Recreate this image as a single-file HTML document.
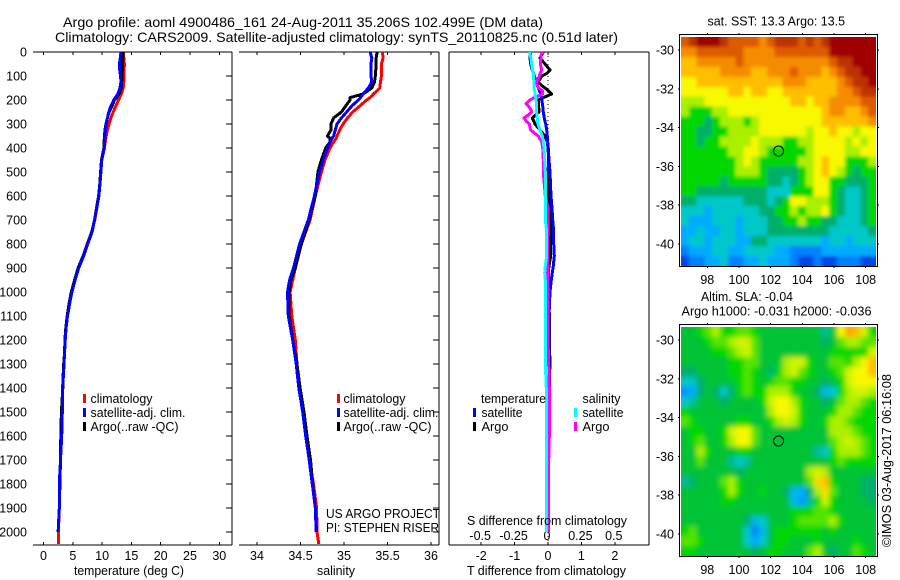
<!DOCTYPE html>
<html lang="en">
<head>
<meta charset="utf-8">
<title>Argo profile chart</title>
<style>
html,body{margin:0;padding:0;background:#fff;width:900px;height:580px;overflow:hidden}
svg{display:block}
text{font-family:"Liberation Sans",Arial,sans-serif;font-size:12.5px;fill:#000}
.frame{stroke:#000;stroke-width:1;fill:none;shape-rendering:crispEdges}
.curve{fill:none;stroke-width:3;stroke-linejoin:round;stroke-linecap:butt;shape-rendering:crispEdges}
</style>
</head>
<body>
<svg id="chart" xmlns="http://www.w3.org/2000/svg" width="900" height="580" viewBox="0 0 900 580">
  <defs>
    <clipPath id="clip-sst"><rect x="681" y="37" width="195" height="229"/></clipPath>
    <clipPath id="clip-sla"><rect x="681" y="327" width="195" height="229"/></clipPath>
    <filter id="blur-sst" filterUnits="userSpaceOnUse" x="660" y="15" width="240" height="270"><feGaussianBlur stdDeviation="1.8"/></filter>
    <filter id="blur-sla" filterUnits="userSpaceOnUse" x="660" y="305" width="240" height="270"><feGaussianBlur stdDeviation="2.6"/></filter>
  </defs>

  <text x="63" y="27" font-size="14" style="font-size:14px" textLength="480" lengthAdjust="spacingAndGlyphs">Argo profile: aoml 4900486_161 24-Aug-2011 35.206S 102.499E (DM data)</text>
  <text x="55" y="42" style="font-size:14px" textLength="563" lengthAdjust="spacingAndGlyphs">Climatology: CARS2009. Satellite-adjusted climatology: synTS_20110825.nc (0.51d later)</text>

  <g id="panel-t"></g>
  <g id="panel-s"></g>
  <g id="panel-d"></g>

  <text x="74" y="575" textLength="110" lengthAdjust="spacingAndGlyphs">temperature (deg C)</text>
  <text x="317" y="575" textLength="38" lengthAdjust="spacingAndGlyphs">salinity</text>
  <text x="467" y="575" textLength="159" lengthAdjust="spacingAndGlyphs">T difference from climatology</text>
  <text x="467" y="525" textLength="160" lengthAdjust="spacingAndGlyphs">S difference from climatology</text>

  <g>
    <rect x="83" y="394" width="3" height="9" fill="#f00"/>
    <rect x="83" y="408" width="3" height="9" fill="#00f"/>
    <rect x="83" y="422" width="3" height="9" fill="#000"/>
    <text x="90.5" y="403" textLength="62" lengthAdjust="spacingAndGlyphs">climatology</text>
    <text x="90.5" y="417" textLength="95" lengthAdjust="spacingAndGlyphs">satellite-adj. clim.</text>
    <text x="90.5" y="431" textLength="88" lengthAdjust="spacingAndGlyphs">Argo(..raw -QC)</text>
  </g>
  <g>
    <rect x="337" y="394" width="3" height="9" fill="#f00"/>
    <rect x="337" y="408" width="3" height="9" fill="#00f"/>
    <rect x="337" y="422" width="3" height="9" fill="#000"/>
    <text x="343.5" y="403" textLength="62" lengthAdjust="spacingAndGlyphs">climatology</text>
    <text x="343.5" y="417" textLength="95" lengthAdjust="spacingAndGlyphs">satellite-adj. clim.</text>
    <text x="343.5" y="431" textLength="88" lengthAdjust="spacingAndGlyphs">Argo(..raw -QC)</text>
  </g>
  <text x="326" y="518" textLength="114" lengthAdjust="spacingAndGlyphs">US ARGO PROJECT</text>
  <text x="326" y="532" textLength="113" lengthAdjust="spacingAndGlyphs">PI: STEPHEN RISER</text>

  <g>
    <text x="481" y="403" textLength="65" lengthAdjust="spacingAndGlyphs">temperature</text>
    <rect x="473" y="408" width="3" height="9" fill="#00f"/>
    <text x="481.5" y="417" textLength="41" lengthAdjust="spacingAndGlyphs">satellite</text>
    <rect x="473" y="422" width="3" height="9" fill="#000"/>
    <text x="481.5" y="431" textLength="27" lengthAdjust="spacingAndGlyphs">Argo</text>
    <text x="582.5" y="403" textLength="38" lengthAdjust="spacingAndGlyphs">salinity</text>
    <rect x="574" y="408" width="3" height="9" fill="#0ff"/>
    <text x="582.5" y="417" textLength="41" lengthAdjust="spacingAndGlyphs">satellite</text>
    <rect x="574" y="422" width="3" height="9" fill="#f0f"/>
    <text x="582.5" y="431" textLength="27" lengthAdjust="spacingAndGlyphs">Argo</text>
  </g>

  <g id="map-sst"></g>
  <g id="map-sla"></g>

  <text x="707.5" y="25.5" textLength="137.5" lengthAdjust="spacingAndGlyphs">sat. SST: 13.3 Argo: 13.5</text>
  <text x="701" y="301" textLength="92" lengthAdjust="spacingAndGlyphs">Altim. SLA: -0.04</text>
  <text x="681.5" y="315.5" textLength="190" lengthAdjust="spacingAndGlyphs">Argo h1000: -0.031 h2000: -0.036</text>
  <text transform="translate(891,547) rotate(-90)" x="0" y="0" textLength="173" lengthAdjust="spacingAndGlyphs">©IMOS 03-Aug-2017 06:16:08</text>
</svg>

<script>
/* ---------- axis tick labels ---------- */
const depthTicks = [0,100,200,300,400,500,600,700,800,900,1000,1100,1200,1300,1400,1500,1600,1700,1800,1900,2000];
const tempTicks = [0,5,10,15,20,25,30];
const salTicks = [34,34.5,35,35.5,36];
const salTickLabels = ['34','34.5','35','35.5','36'];
const tDiffTicks = [-2,-1,0,1,2];
const sDiffTicks = [-0.5,-0.25,0,0.25,0.5];
const sDiffTickLabels = ['-0.5','-0.25','0','0.25','0.5'];
const lonTicks = [98,100,102,104,106,108];
const latTicks = [-30,-32,-34,-36,-38,-40];

/* ---------- temperature profiles ---------- */
const tempDepths = [0,25,50,75,100,125,150,175,200,225,250,275,300,325,350,400,450,500,550,600,650,700,750,800,850,900,950,1000,1050,1100,1150,1200,1250,1300,1350,1400,1500,1600,1700,1800,1900,2000];
const tempClim = [13.6,13.7,13.8,13.75,13.7,13.7,13.6,13.3,12.8,12.35,11.9,11.5,11.2,10.9,10.7,10.4,9.95,9.8,9.65,9.45,9.1,8.75,8.2,7.45,6.8,5.9,5.4,4.85,4.45,4.1,3.85,3.7,3.6,3.5,3.4,3.25,3.2,3.1,2.9,2.7,2.7,2.55];
const tempSat = [13.2,13.1,12.95,13.0,13.15,13.2,13.05,12.7,12.0,11.5,11.15,10.9,10.7,10.6,10.5,10.35,9.95,9.8,9.65,9.45,9.1,8.7,8.3,7.55,6.85,6.0,5.4,4.85,4.45,4.1,3.85,3.7,3.6,3.5,3.4,3.25,3.2,3.1,2.9,2.7,2.7,2.5];
const tempArgo = [13.6,13.55,13.5,13.45,13.4,13.35,13.3,12.9,12.1,11.7,11.2,10.9,10.65,10.5,10.4,10.3,9.9,9.75,9.6,9.4,9.05,8.7,8.25,7.5,6.75,5.9,5.3,4.75,4.35,4.05,3.8,3.65,3.6,3.45,3.35,3.3,3.05,2.95,2.9,2.8,2.7,2.5];

/* ---------- salinity profiles ---------- */
const salDepths = [0,25,50,100,125,150,175,190,200,225,250,275,300,325,350,360,375,400,450,500,600,700,800,900,950,1000,1100,1200,1300,1400,1500,1600,1700,1800,1900,2000];
const salClim = [35.44,35.45,35.43,35.43,35.42,35.41,35.34,35.3,35.26,35.18,35.10,35.04,34.99,34.95,34.92,34.91,34.88,34.84,34.78,34.74,34.67,34.61,34.51,34.44,34.41,34.38,34.40,34.44,34.46,34.49,34.53,34.56,34.6,34.65,34.685,34.69];
const salSat = [35.30,35.32,35.31,35.31,35.32,35.28,35.22,35.19,35.165,35.09,35.03,34.97,34.92,34.90,34.88,34.86,34.84,34.81,34.76,34.72,34.66,34.59,34.49,34.42,34.375,34.35,34.36,34.41,34.45,34.48,34.525,34.56,34.60,34.636,34.67,34.68];
const salArgo = [35.38,35.37,35.37,35.36,35.35,35.32,35.22,35.07,35.07,35.02,34.97,34.88,34.85,34.85,34.81,34.84,34.84,34.79,34.74,34.70,34.67,34.60,34.51,34.44,34.39,34.37,34.37,34.41,34.46,34.495,34.54,34.575,34.615,34.64,34.67,34.685];

/* ---------- difference profiles ---------- */
const diffDepths = [0,10,25,50,75,90,100,125,140,150,160,175,190,200,215,225,240,250,260,275,290,300,325,340,350,375,400,450,500,600,650,700,750,800,850,890,920,950,1000,1100,1200,1300,1400,1500,1600,1700,1800,1900,2000];
const tDiffSat = [-.52,-.53,-.54,-.52,-.47,-.43,-.41,-.34,-.31,-.29,-.26,-.22,-.19,-.18,-.17,-.16,-.15,-.14,-.13,-.11,-.09,-.07,-.04,-.03,-.02,-.01,.01,.03,.06,.09,.12,.14,.17,.17,.19,.16,.13,.10,.06,.03,.03,.03,.05,.02,.01,.01,.01,.01,.02];
const tDiffArgo = [-.14,-.18,-.24,-.09,.06,-.04,-.19,-.29,-.19,-.09,0,.11,-.14,-.29,-.28,-.29,-.27,-.27,-.35,-.47,-.42,-.39,-.24,-.15,-.09,-.02,0,.02,0,0,.05,.06,.08,.08,.08,.03,.01,.01,.03,.04,.04,.06,.03,.02,.01,.01,.01,.01,.01];
const sDiffSat = [-.135,-.135,-.1275,-.1225,-.115,-.11,-.11,-.105,-.105,-.105,-.1,-.0975,-.092,-.09,-.085,-.085,-.085,-.085,-.082,-.08,-.078,-.075,-.06,-.05,-.0425,-.035,-.03,-.025,-.02,-.02,-.02,-.02,-.01,-.01,-.01,-.02,-.025,-.02,-.02,-.02,-.02,-.02,-.0125,-.0125,-.0125,-.0125,-.01,-.01,-.0125];
const sDiffArgo = [-.035,-.05,-.0525,-.0575,-.0475,-.06,-.065,-.085,-.08,-.0725,-.0425,-.04,-.1025,-.135,-.165,-.1475,-.1275,-.1225,-.1425,-.18,-.16,-.14,-.13,-.0975,-.0725,-.0475,-.04,-.035,-.035,-.02,0,0,0,-.005,-.005,-.005,-.005,-.005,0,0,0,.005,.01,.01,.01,.005,.005,.005,.005];

/* ---------- argo float position ---------- */
const floatLon = [102.499];
const floatLat = [-35.206];

/* ---------- SST map (colour level, rows north to south) ---------- */
const sstGrid = [
[10,11,12,12,12,11,10,10,10,10,9,10,11,11,11,10,11,10,11,12,12,12,12,12,12],
[9,9,10,10,10,10,10,10,9,9,9,9,10,10,10,10,10,10,10,12,12,12,12,12,12],
[8,8,9,9,9,9,9,10,9,9,9,9,9,9,9,9,9,9,9,10,11,11,12,12,12],
[8,8,8,8,8,9,9,9,9,8,8,9,9,9,10,9,9,9,8,9,10,11,11,12,12],
[7,7,8,8,8,8,8,8,8,8,8,8,8,9,9,9,8,8,8,8,9,10,11,11,12],
[7,7,7,7,7,7,8,8,7,8,8,7,7,8,8,8,8,8,8,8,9,9,10,11,11],
[6,6,6,7,7,7,7,7,7,7,7,7,7,7,8,8,7,8,8,9,9,9,9,10,10],
[6,5,5,5,6,6,7,7,7,7,7,7,7,7,7,7,7,7,8,9,9,8,8,9,10],
[5,5,5,4,5,6,6,6,5,6,7,7,7,7,7,7,7,7,8,8,8,8,8,8,9],
[5,5,4,4,5,5,6,6,6,6,7,7,7,7,7,7,6,7,7,8,7,7,6,7,7],
[5,5,4,5,5,6,6,6,6,7,6,6,6,5,5,6,6,7,7,7,7,6,7,6,7],
[5,5,5,5,5,5,6,6,7,7,6,5,5,5,5,5,6,7,7,7,7,6,6,7,7],
[5,5,5,5,5,5,5,6,7,6,5,5,5,5,5,6,6,7,8,7,7,5,5,5,6],
[5,5,5,5,5,5,5,6,6,6,5,4,4,4,4,5,6,7,8,7,6,5,4,5,5],
[5,5,5,5,5,4,5,5,5,5,5,4,4,3,4,5,6,7,7,5,5,4,4,4,5],
[5,5,4,4,4,4,4,4,4,4,4,3,3,3,5,5,5,7,7,5,4,3,3,4,5],
[4,4,3,3,3,3,3,3,4,4,4,3,4,5,7,7,6,6,6,5,4,3,3,4,5],
[3,3,3,2,3,3,3,3,3,3,4,4,5,5,6,5,6,6,7,5,4,3,3,4,5],
[3,2,2,2,3,3,3,2,3,3,3,4,4,5,5,6,5,5,4,4,3,3,3,4,5],
[2,2,3,2,2,3,3,2,3,3,3,4,4,4,4,4,4,4,4,3,3,3,3,3,4],
[2,3,3,2,3,3,3,2,2,4,4,3,3,3,3,3,3,3,2,3,3,2,3,3,3],
[1,2,2,2,3,3,2,2,3,3,3,3,2,2,1,1,1,1,2,2,2,2,2,2,2],
[0,1,1,2,2,3,1,1,2,2,3,2,2,2,1,0,0,1,0,0,1,1,1,0,0]
];

/* ---------- SLA map (colour level, rows north to south) ---------- */
const slaGrid = [
[4.5,4.5,5,5.5,6,5,5,5.5,5.5,5,4.5,4.5,4.5,4.5,4.5,4.5,4.5,4.5,3.5,4.5,7,8.5,8,6.5,5],
[4.5,4.5,4.5,5,5.5,5.5,6,6.5,6.5,5.5,4.5,4.5,4.5,4.5,4.5,4.5,4.5,4.5,4,4.5,5.5,6,6,5.5,5.5],
[4.5,4.5,4.5,4.5,5,5,5.5,6,6.5,5.5,4.5,4.5,4.5,4.5,4.5,4.5,4.5,4.5,4.5,5,5,5,5,5,6.5],
[4.5,4.5,4.5,4.5,4.5,4.5,5,5,5.5,5.5,4.5,4.5,4.5,6,6.5,6.5,5,4.5,4.5,5.5,5.5,5,6,7,8],
[4,4,4.5,4.5,4.5,4.5,5,5,5.5,5,4.5,4,5,6,6.5,5.5,5,4.5,4.5,5,5.5,6.5,7,7,8],
[3,3,4,4.5,4.5,4.5,4.5,5,5.5,5,4.5,5,5.5,5.5,5,5,4.5,4.5,4,4.5,5,6.5,7,7,7],
[1.5,2,4,4.5,4,3,4,5,5.5,5,5,6,6,6,5,4.5,4.5,4,2.5,3,5,6,6.5,6.5,6],
[3,3.5,4.5,4.5,4.5,4,4.5,4.5,4.5,4.5,5,6.5,7,7,6,5,4.5,4.5,4,4.5,5.5,6,6,5.5,5],
[5,4.5,4.5,4.5,4.5,4.5,4.5,4.5,4.5,4.5,4.5,6,7,7,6.5,5,4.5,4.5,4.5,5,6,6,5.5,5,5],
[5.5,5,4.5,4.5,4.5,4.5,4.5,5,5,4.5,4.5,5,6,6.5,6,5,4.5,4.5,5,6,6,5.5,5,5,5],
[4.5,5,5,4.5,4.5,5,6.5,7,7,5.5,4.5,4.5,4.5,4.5,4.5,4.5,4.5,4.5,4.5,6,6,6,5.5,5,5],
[4.5,5,5.5,4.5,4.5,5,6,7,7,5.5,4.5,4.5,4.5,4.5,4.5,4.5,4.5,4.5,4.5,5.5,6,6.5,6,5.5,5],
[4.5,4.5,6,5,4.5,4.5,4.5,5,5,4.5,4.5,4.5,4.5,4.5,4.5,4.5,4.5,3.5,3,5,6,6,6,5.5,5],
[4.5,4.5,5.5,4.5,4.5,4.5,3.5,3,3.5,4.5,4.5,4.5,4.5,4.5,4.5,4.5,4.5,4.5,4.5,5,5.5,5,5,5,5],
[4.5,4.5,4.5,4.5,4.5,4.5,4.5,4,4.5,4.5,4.5,4.5,4.5,4.5,4.5,4.5,6,6.5,6,4.5,4.5,4.5,4.5,4.5,4.5],
[3.5,4,4.5,4.5,4.5,5.5,6,5,4.5,4.5,4.5,4.5,4.5,4.5,4.5,4.5,5.5,7.5,8,5,4.5,4.5,4.5,4,4],
[4.5,4.5,4.5,4.5,4.5,5,6,5,4.5,4.5,5,4.5,4.5,4,2.5,2,4,6,7.5,5.5,4.5,4.5,4.5,4,4],
[4.5,4.5,4.5,4.5,4.5,5,5,4.5,4.5,4.5,4.5,4.5,4.5,4.5,2.5,1.5,3.5,5,6.5,5,4.5,4.5,4.5,4.5,4],
[4.5,4.5,4.5,4.5,4.5,4.5,4.5,4.5,4.5,4.5,4.5,4.5,4.5,4.5,5,5,5,5.5,5.5,5,4.5,4.5,4.5,4.5,4.5],
[4.5,4.5,4.5,4.5,4.5,4.5,4.5,4.5,4,2.5,3,4.5,4.5,4.5,5,5.5,5.5,5.5,5.5,6,5,4.5,4.5,4.5,4.5],
[5,5.5,4.5,4.5,4.5,4.5,4.5,4.5,3,1,2.5,4.5,5,5,5,5,5,5,4.5,5,4.5,4.5,4.5,4.5,4.5],
[5.5,5.5,5,4.5,4.5,4.5,4.5,4.5,3,2,3,4.5,5,5,4.5,4.5,4.5,5,4.5,4.5,4.5,4.5,5,4.5,4.5],
[5,5,4.5,4.5,4.5,4.5,4.5,4.5,4.5,4,4.5,5,5,4.5,4.5,4.5,5.5,6,4.5,4,4.5,4.5,5.5,5,4.5]
];

/* ---------- colour ramp for map levels ---------- */
const rampColors = [[0,70,230],[0,130,255],[0,172,255],[0,200,200],[0,175,105],[0,215,0],[170,240,0],[248,248,0],[255,190,0],[245,140,0],[222,90,0],[190,50,0],[160,0,0]];

/* ---------- axis functions ---------- */
const NS = 'http://www.w3.org/2000/svg';
function yDepth(d){ return 52 + d * 0.24; }
function xTemp(t){ return 43.5 + t * 5.86; }
function xSal(s){ return 257 + (s - 34) * 87; }
function xTDiff(v){ return 548 + v * 33.4; }
function xSDiff(v){ return 548 + v * 133.6; }
function xLon(lon){ return 707.3 + (lon - 98) * 15.84; }
function yLat(lat, top){ return top + 50 + (-30 - lat) * 19.4; }
function rampColor(level){
  const c = Math.max(0, Math.min(rampColors.length - 1, level));
  const i = Math.min(rampColors.length - 2, Math.floor(c));
  const f = c - i;
  const a = rampColors[i], b = rampColors[i + 1];
  return 'rgb(' + Math.round(a[0] + (b[0] - a[0]) * f) + ',' + Math.round(a[1] + (b[1] - a[1]) * f) + ',' + Math.round(a[2] + (b[2] - a[2]) * f) + ')';
}

function line(parent, x1, y1, x2, y2, name){
  const el = document.createElementNS(NS, 'line');
  el.setAttribute('x1', x1);
  el.setAttribute('y1', y1);
  el.setAttribute('x2', x2);
  el.setAttribute('y2', y2);
  el.setAttribute('class', 'frame');
  
  
  parent.appendChild(el);
  return el;
}
function label(parent, x, y, str, anchor, name){
  const el = document.createElementNS(NS, 'text');
  el.setAttribute('x', x);
  el.setAttribute('y', y);
  el.setAttribute('text-anchor', anchor);
  el.textContent = str;
  
  
  parent.appendChild(el);
  return el;
}
function curve(parent, xs, ds, xFn, color, name){
  const el = document.createElementNS(NS, 'polyline');
  const pts = xs.map(function(v, i){ return xFn(v).toFixed(1) + ',' + yDepth(ds[i]).toFixed(1); });
  el.setAttribute('points', pts.join(' '));
  el.setAttribute('class', 'curve');
  el.setAttribute('stroke', color);
  
  
  parent.appendChild(el);
  return el;
}

/* ---------- profile panels ---------- */
const panelT = document.getElementById('panel-t');
const panelS = document.getElementById('panel-s');
const panelD = document.getElementById('panel-d');

line(panelT, 33, 52, 232, 52, 'temperature-top-axis');
line(panelT, 33, 545, 232, 545, 'temperature-bottom-axis');
line(panelT, 232, 52, 232, 545, 'temperature-right-axis');
line(panelS, 239, 52, 439, 52, 'salinity-top-axis');
line(panelS, 239, 545, 439, 545, 'salinity-bottom-axis');
line(panelS, 439, 52, 439, 545, 'salinity-right-axis');
line(panelD, 449, 52, 649, 52, 'difference-top-axis');
line(panelD, 449, 545, 649, 545, 'difference-bottom-axis');
line(panelD, 449, 52, 449, 545, 'difference-left-axis');
line(panelD, 649, 52, 649, 545, 'difference-right-axis');

depthTicks.forEach(function(d){
  label(panelT, 27, yDepth(d) + 4.5, String(d), 'end', 'depth-tick-label');
  line(panelT, 226, yDepth(d), 232, yDepth(d), 'temperature-depth-tick');
  line(panelS, 433, yDepth(d), 439, yDepth(d), 'salinity-depth-tick');
});
tempTicks.forEach(function(t){
  const x = xTemp(t);
  line(panelT, x, 52, x, 55, 'temperature-top-tick');
  line(panelT, x, 542, x, 545, 'temperature-bottom-tick');
  label(panelT, x, 560, String(t), 'middle', 'temperature-tick-label');
});
salTicks.forEach(function(s, i){
  const x = xSal(s);
  line(panelS, x, 52, x, 55, 'salinity-top-tick');
  line(panelS, x, 542, x, 545, 'salinity-bottom-tick');
  label(panelS, x, 560, salTickLabels[i], 'middle', 'salinity-tick-label');
});
tDiffTicks.forEach(function(v){
  const x = xTDiff(v);
  line(panelD, x, 52, x, 55, 'difference-top-tick');
  line(panelD, x, 542, x, 545, 'difference-bottom-tick');
  label(panelD, x, 560, String(v), 'middle', 't-difference-tick-label');
});
sDiffTicks.forEach(function(v, i){
  label(panelD, xSDiff(v) - 1, 540, sDiffTickLabels[i], 'middle', 's-difference-tick-label');
});

const zeroLine = line(panelD, xTDiff(0), 52, xTDiff(0), 545, 'zero-difference-line');
zeroLine.setAttribute('stroke-dasharray', '1 3');

curve(panelT, tempClim, tempDepths, xTemp, '#f00', 'temperature-climatology-line');
const tempClimTail = curve(panelT, [tempClim[tempClim.length - 1], tempClim[tempClim.length - 1]], [2000, 2050], xTemp, '#f00', 'temperature-climatology-tail');
curve(panelT, tempArgo, tempDepths, xTemp, '#000', 'temperature-argo-line');
curve(panelT, tempSat, tempDepths, xTemp, '#00f', 'temperature-satellite-line');

curve(panelS, salClim, salDepths, xSal, '#f00', 'salinity-climatology-line');
const salClimTail = curve(panelS, [salClim[salClim.length - 1], salClim[salClim.length - 1] + 0.02], [2000, 2050], xSal, '#f00', 'salinity-climatology-tail');
curve(panelS, salArgo, salDepths, xSal, '#000', 'salinity-argo-line');
curve(panelS, salSat, salDepths, xSal, '#00f', 'salinity-satellite-line');

curve(panelD, tDiffArgo, diffDepths, xTDiff, '#000', 't-difference-argo-line');
curve(panelD, tDiffSat, diffDepths, xTDiff, '#00f', 't-difference-satellite-line');
curve(panelD, sDiffArgo, diffDepths, xSDiff, '#f0f', 's-difference-argo-line');
curve(panelD, sDiffSat, diffDepths, xSDiff, '#0ff', 's-difference-satellite-line');

/* ---------- maps ---------- */
function drawMap(groupId, grid, top, clipId, filterId, cellName){
  const g = document.getElementById(groupId);
  const clip = document.createElementNS(NS, 'g');
  clip.setAttribute('clip-path', 'url(#' + clipId + ')');
  
  
  const cells = document.createElementNS(NS, 'g');
  cells.setAttribute('filter', 'url(#' + filterId + ')');
  cells.setAttribute('shape-rendering', 'crispEdges');
  
  
  const lonStart = 96.34, lonStep = 0.4924, latStart = -29.33, latStep = 0.5131;
  grid.forEach(function(row, r){
    row.forEach(function(level, c){
      let x0 = xLon(lonStart + c * lonStep), x1 = xLon(lonStart + (c + 1) * lonStep);
      let y0 = yLat(latStart - r * latStep, top), y1 = yLat(latStart - (r + 1) * latStep, top);
      if (c === 0) x0 -= 8;
      if (c === row.length - 1) x1 += 8;
      if (r === 0) y0 -= 8;
      if (r === grid.length - 1) y1 += 8;
      const rect = document.createElementNS(NS, 'rect');
      rect.setAttribute('x', x0.toFixed(2));
      rect.setAttribute('y', y0.toFixed(2));
      rect.setAttribute('width', (x1 - x0 + 0.5).toFixed(2));
      rect.setAttribute('height', (y1 - y0 + 0.5).toFixed(2));
      rect.setAttribute('fill', rampColor(level));
      
      
      cells.appendChild(rect);
    });
  });
  clip.appendChild(cells);
  g.appendChild(clip);

  const frame = document.createElementNS(NS, 'rect');
  frame.setAttribute('x', 679.5);
  frame.setAttribute('y', top + 34.5);
  frame.setAttribute('width', 198);
  frame.setAttribute('height', 232);
  frame.setAttribute('class', 'frame');
  
  
  g.appendChild(frame);

  lonTicks.forEach(function(lon){
    const x = xLon(lon);
    line(g, x, top + 33, x, top + 35, 'map-top-tick');
    line(g, x, top + 266, x, top + 268, 'map-bottom-tick');
    label(g, x, top + 284, String(lon), 'middle', 'longitude-tick-label');
  });
  latTicks.forEach(function(lat){
    const y = yLat(lat, top);
    line(g, 678, y, 680, y, 'map-left-tick');
    line(g, 877, y, 879, y, 'map-right-tick');
    label(g, 674, y + 4.5, String(lat), 'end', 'latitude-tick-label');
  });

  const marker = document.createElementNS(NS, 'circle');
  marker.setAttribute('cx', xLon(floatLon[0]));
  marker.setAttribute('cy', yLat(floatLat[0], top));
  marker.setAttribute('r', 5);
  marker.setAttribute('fill', 'none');
  marker.setAttribute('stroke', '#000');
  marker.setAttribute('stroke-width', 1);
  
  
  g.appendChild(marker);
}
drawMap('map-sst', sstGrid, 0, 'clip-sst', 'blur-sst', 'sst-cell');
drawMap('map-sla', slaGrid, 290, 'clip-sla', 'blur-sla', 'sla-cell');
</script>
</body>
</html>
